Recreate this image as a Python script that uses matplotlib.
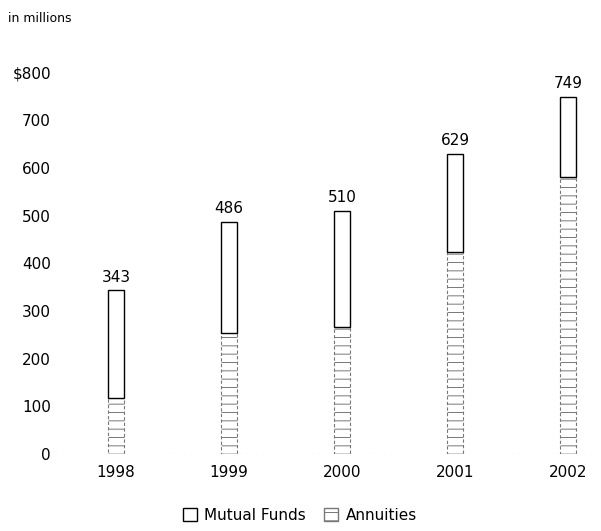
import matplotlib.pyplot as plt
from matplotlib.patches import Patch

plt.rcParams['font.family'] = ['DejaVu Sans']
plt.rcParams['hatch.linewidth'] = 0.7

years = ["1998", "1999", "2000", "2001", "2002"]
totals = [343, 486, 510, 629, 749]
annuities = [117, 254, 266, 423, 581]
mutual_funds = [t - a for t, a in zip(totals, annuities)]
yticks = [0, 100, 200, 300, 400, 500, 600, 700, 800]
ytick_labels = ["0", "100", "200", "300", "400", "500", "600", "700", "$800"]

W, H = 601, 531
fig = plt.figure(figsize=(W / 100, H / 100), dpi=100)
ax = fig.add_axes([62 / W, 77 / H, (595 - 62) / W, (454 - 30) / H])

x = list(range(len(years)))
# annuities at the bottom, hatched; mutual funds stacked on top as open boxes
ax.bar(x, annuities, width=0.14, color="white", edgecolor="#777777",
       hatch="--", linewidth=0.8, linestyle=(0, (3, 2)))
ax.bar(x, mutual_funds, width=0.14, bottom=annuities, color="white",
       edgecolor="black", linewidth=1.0)

for xi, t in zip(x, totals):
    ax.text(xi, t + 12, str(t), ha="center", va="bottom", fontsize=11)

ax.axhline(0, color="#888888", linewidth=0.8, linestyle=(0, (1, 4)))

ax.set_xlim(-0.478, 4.239)
ax.set_ylim(0, 889)
ax.set_xticks(x)
ax.set_xticklabels(years, fontsize=11)
ax.set_yticks(yticks)
ax.set_yticklabels(ytick_labels, fontsize=11)
ax.tick_params(length=0, pad=8)
for s in ax.spines.values():
    s.set_visible(False)

fig.text(8 / W, 1 - 18 / H, "in millions", fontsize=9, va="center", ha="left")

handles = [Patch(facecolor="white", edgecolor="black", label="Mutual Funds"),
           Patch(facecolor="white", edgecolor="#777777", hatch="--", label="Annuities")]
fig.legend(handles=handles, loc="center", bbox_to_anchor=(300 / W, 1 - 515 / H),
           ncol=2, frameon=False, fontsize=11, handlelength=0.9, handleheight=0.9,
           columnspacing=1.2, handletextpad=0.5)

fig.savefig("out.png", dpi=100)
